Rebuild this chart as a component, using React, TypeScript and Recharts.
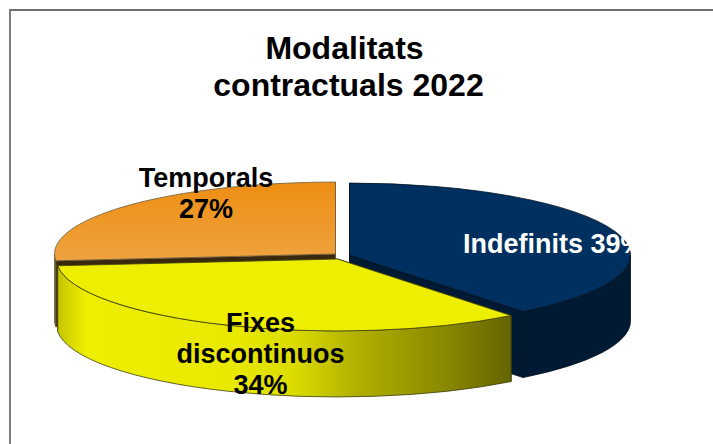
import React from 'react';
import { PieChart, Pie } from 'recharts';

const categories = ['Temporals', 'Indefinits', 'Fixes discontinuos'];
const shares = [26.5, 39.4, 34.1];

const data = categories.map((name, i) => ({ name, value: shares[i] }));

const WIDTH = 713;
const HEIGHT = 444;
const TILT = 0.256; // flattening of the pie
const DEPTH = 66;
const FONT = '"Liberation Sans", Arial, sans-serif';

// how each slice is pulled out of the centre
const explode: Record<string, [number, number]> = {
  Temporals: [-2, -2],
  Indefinits: [12, -1],
  'Fixes discontinuos': [0, 3],
};

const topFill: Record<string, string> = {
  Temporals: 'url(#topOrange)',
  Indefinits: '#003060',
  'Fixes discontinuos': '#eeee00',
};
const wallFill: Record<string, string> = {
  Temporals: '#6a4a1c',
  Indefinits: '#001a33',
  'Fixes discontinuos': 'url(#wallYellow)',
};
const cutFill: Record<string, string> = {
  Temporals: '#3a280c',
  Indefinits: '#001a33',
  'Fixes discontinuos': '#77770a',
};
const edgeColor: Record<string, string> = {
  Temporals: '#6b5a3c',
  Indefinits: '#00101f',
  'Fixes discontinuos': '#3c3c10',
};

// label lines with their offset from the pie centre
const labelLayout: Record<string, { dx: number; dy: number; lines: string[]; color: string; anchor: string }> = {
  Temporals: { dx: -131.5, dy: -69, lines: ['Temporals'], color: '#000', anchor: 'middle' },
  Indefinits: { dx: 125.5, dy: -3, lines: [], color: '#fff', anchor: 'start' },
  'Fixes discontinuos': { dx: -77, dy: 76, lines: ['Fixes', 'discontinuos'], color: '#000', anchor: 'middle' },
};

const Slice3D = (props: any) => {
  const { cx, cy, outerRadius: r, startAngle, endAngle, name } = props;
  const key = name ?? props.payload?.name;
  const [ox, oy] = explode[key];
  const x0 = cx + ox;
  const y0 = cy + oy;
  const ry = r * TILT;
  const pt = (deg: number, drop = 0): [number, number] => {
    const a = (deg * Math.PI) / 180;
    return [x0 + r * Math.cos(a), y0 - ry * Math.sin(a) + drop];
  };
  const [sx, sy] = pt(startAngle);
  const [ex, ey] = pt(endAngle);
  const large = Math.abs(startAngle - endAngle) > 180 ? 1 : 0;
  const top = `M${x0},${y0} L${sx},${sy} A${r},${ry} 0 ${large} 1 ${ex},${ey} Z`;

  const cut = (x: number, y: number) =>
    `M${x0},${y0} L${x},${y} L${x},${y + DEPTH} L${x0},${y0 + DEPTH} Z`;

  // outer wall: only the part of the arc that faces the viewer (lower half)
  const norm = (d: number) => ((d % 360) + 360) % 360;
  let wall = '';
  const from = norm(startAngle);
  const span = startAngle - endAngle;
  const samples: number[] = [];
  for (let i = 0; i <= 240; i++) {
    const d = from - (span * i) / 240;
    if (norm(d) >= 180) samples.push(d);
  }
  if (samples.length > 1) {
    const [ax, ay] = pt(samples[0]);
    const [bx, by] = pt(samples[samples.length - 1]);
    wall =
      `M${ax},${ay} A${r},${ry} 0 0 1 ${bx},${by} ` +
      `L${bx},${by + DEPTH} A${r},${ry} 0 0 0 ${ax},${ay + DEPTH} Z`;
  }

  return (
    <g>
      <defs>
        <linearGradient id="topOrange" x1="0" y1="0" x2="0" y2="1">
          <stop offset="0" stopColor="#ee8e12" />
          <stop offset="1" stopColor="#eea340" />
        </linearGradient>
        <linearGradient id="wallYellow" x1="0" y1="0" x2="1" y2="0">
          <stop offset="0" stopColor="#c4c400" />
          <stop offset="0.06" stopColor="#eeee00" />
          <stop offset="0.38" stopColor="#e9e900" />
          <stop offset="0.52" stopColor="#dcdc00" />
          <stop offset="0.66" stopColor="#b0b000" />
          <stop offset="0.85" stopColor="#8a8a00" />
          <stop offset="1" stopColor="#646400" />
        </linearGradient>
      </defs>
      <path d={cut(sx, sy)} fill={cutFill[key]} stroke={edgeColor[key]} strokeWidth={0.8} />
      <path d={cut(ex, ey)} fill={cutFill[key]} stroke={edgeColor[key]} strokeWidth={0.8} />
      {wall && <path d={wall} fill={wallFill[key]} stroke={edgeColor[key]} strokeWidth={0.8} />}
      <path d={top} fill={topFill[key]} stroke={edgeColor[key]} strokeWidth={0.8} />
    </g>
  );
};

const renderLabel = (props: any) => {
  const { cx, cy, name, value } = props;
  const l = labelLayout[name];
  const pct = `${Math.round(value)}%`;
  const lines = l.lines.length ? [...l.lines, pct] : [`${name} ${pct}`];
  return (
    <text
      x={cx + l.dx}
      y={cy + l.dy}
      fill={l.color}
      textAnchor={l.anchor as any}
      fontFamily={FONT}
      fontWeight="bold"
      fontSize={27}
    >
      {lines.map((t, i) => (
        <tspan key={t} x={cx + l.dx} dy={i === 0 ? 0 : 31}>
          {t}
        </tspan>
      ))}
    </text>
  );
};

export default function App() {
  return (
    <div style={{ position: 'absolute', left: 0, top: 0, width: WIDTH, height: HEIGHT, overflow: 'hidden', background: '#fff' }}>
      <div
        style={{
          position: 'absolute',
          left: 9,
          top: 9,
          width: WIDTH,
          height: HEIGHT,
          borderLeft: '2px solid #808080',
          borderTop: '2px solid #707070',
        }}
      />
      <div style={{ position: 'absolute', left: 0, top: 0 }}>
        <PieChart width={WIDTH} height={HEIGHT} margin={{ top: 0, right: 0, bottom: 0, left: 0 }}>
          <text x={344.5} y={59} textAnchor="middle" fontFamily={FONT} fontWeight="bold" fontSize={32} fill="#000">
            Modalitats
          </text>
          <text x={348.5} y={96} textAnchor="middle" fontFamily={FONT} fontWeight="bold" fontSize={32} fill="#000">
            contractuals 2022
          </text>
          <Pie
            data={data}
            dataKey="value"
            nameKey="name"
            cx={337.5}
            cy={256}
            innerRadius={0}
            outerRadius={281}
            startAngle={185.4}
            endAngle={-174.6}
            stroke="none"
            isAnimationActive={false}
            labelLine={false}
            label={renderLabel}
            shape={Slice3D}
          />
        </PieChart>
      </div>
    </div>
  );
}
